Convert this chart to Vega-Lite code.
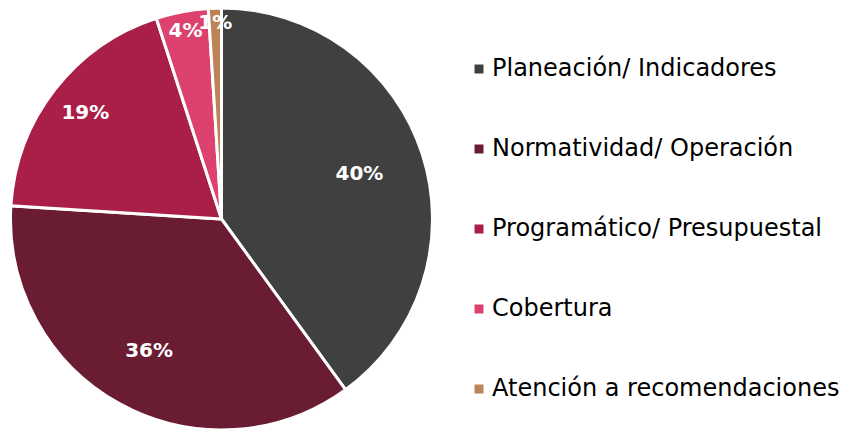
{
  "$schema": "https://vega.github.io/schema/vega-lite/v6.json",
  "width": 443,
  "height": 438,
  "padding": 0,
  "background": "white",
  "data": {
    "values": [
      {"categoria": "Planeación/ Indicadores", "valor": 40, "orden": 1, "etiqueta": "40%"},
      {"categoria": "Normatividad/ Operación", "valor": 36, "orden": 2, "etiqueta": "36%"},
      {"categoria": "Programático/ Presupuestal", "valor": 19, "orden": 3, "etiqueta": "19%"},
      {"categoria": "Cobertura", "valor": 4, "orden": 4, "etiqueta": "4%"},
      {"categoria": "Atención a recomendaciones", "valor": 1, "orden": 5, "etiqueta": "1%"}
    ]
  },
  "encoding": {
    "theta": {"field": "valor", "type": "quantitative", "stack": true},
    "order": {"field": "orden", "type": "quantitative"},
    "color": {
      "field": "categoria",
      "type": "nominal",
      "scale": {
        "domain": ["Planeación/ Indicadores", "Normatividad/ Operación", "Programático/ Presupuestal", "Cobertura", "Atención a recomendaciones"],
        "range": ["#404040", "#691C32", "#A91F48", "#DD416E", "#BC8456"]
      },
      "legend": {
        "title": null,
        "orient": "none",
        "legendX": 467,
        "legendY": 57,
        "symbolType": "square",
        "symbolSize": 110,
        "labelFontSize": 24,
        "labelFont": "DejaVu Sans",
        "labelColor": "#000000",
        "labelLimit": 500,
        "rowPadding": 56,
        "labelOffset": 1
      }
    }
  },
  "layer": [
    {
      "mark": {"type": "arc", "outerRadius": 211, "stroke": "white", "strokeWidth": 3}
    },
    {
      "mark": {"type": "text", "fontSize": 20, "fontWeight": "bold", "font": "DejaVu Sans"},
      "encoding": {
        "text": {"field": "etiqueta"},
        "color": {"value": "white"},
        "radius": {"field": "valor", "type": "quantitative", "scale": {"type": "linear", "domain": [0, 40], "range": [197, 145], "zero": false}, "legend": null}
      }
    }
  ]
}
